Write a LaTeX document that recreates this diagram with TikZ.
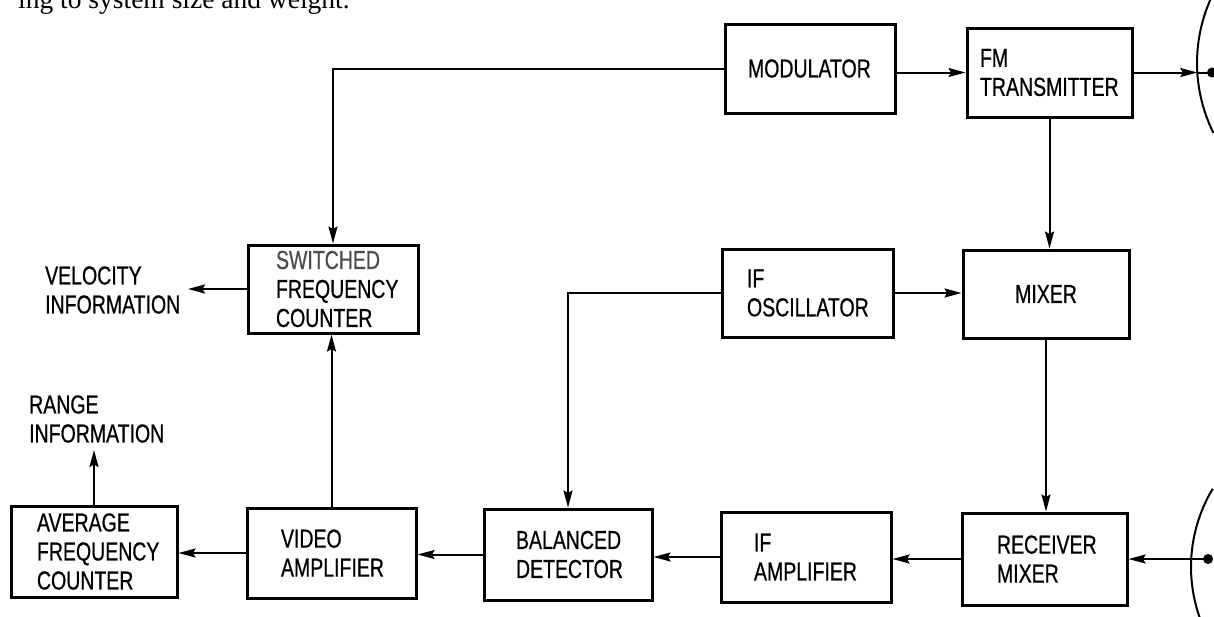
\documentclass[tikz,border=0pt]{standalone}
\usepackage{fontspec}
\setmainfont[FakeStretch=0.75,FakeBold=0.6]{Liberation Sans}
\newfontfamily\capfont{Liberation Serif}
\usetikzlibrary{arrows.meta}
\newcommand\lbl{\fontsize{26}{29}\selectfont}
\begin{document}
\begin{tikzpicture}[x=1pt,y=-1pt,
  box/.style={draw, line width=3pt, inner sep=0pt, align=left, font=\lbl},
  txt/.style={inner sep=0pt, align=left, font=\lbl},
  link/.style={line width=2pt},
  arr/.style={link, -{Stealth[length=17pt,width=9pt,inset=2.5pt]}},
  dish/.style={line width=2pt}]
\useasboundingbox (0,0) rectangle (1214,616);
\fill[white] (0,0) rectangle (1214,616);
\clip (0,0) rectangle (1214,616);

\node[anchor=base west, inner sep=0pt, font=\capfont\fontsize{27.5}{30}\selectfont] (cap) at (18,8) {ing to system size and weight.};

\node[box, minimum width=170pt, minimum height=89pt, text width=124pt] (mod) at (810,68.5) {MODULATOR};
\node[box, minimum width=165pt, minimum height=89pt, text width=139pt] (fm) at (1049.5,72.5) {FM\\TRANSMITTER};
\node[box, minimum width=170pt, minimum height=88pt, text width=114pt] (sw) at (333,289) {\textcolor{black!70}{SWITCHED}\\FREQUENCY\\COUNTER};
\node[box, minimum width=171pt, minimum height=88pt, text width=121pt] (osc) at (807.5,293) {IF\\OSCILLATOR};
\node[box, minimum width=166pt, minimum height=88pt, text width=150pt, align=center] (mix) at (1046,294) {MIXER};
\node[box, minimum width=166pt, minimum height=91pt, text width=114pt] (avg) at (94,551.5) {AVERAGE\\FREQUENCY\\COUNTER};
\node[box, minimum width=169pt, minimum height=90pt, text width=101pt] (vid) at (331.5,553) {VIDEO\\AMPLIFIER};
\node[box, minimum width=168pt, minimum height=91pt, text width=104pt] (bal) at (568,554.5) {BALANCED\\DETECTOR};
\node[box, minimum width=170pt, minimum height=90pt, text width=104pt] (ifa) at (806,557) {IF\\AMPLIFIER};
\node[box, minimum width=165pt, minimum height=92pt, text width=95pt] (rcv) at (1044.5,559) {RECEIVER\\MIXER};

\node[txt, anchor=west] (vel) at (45,290) {VELOCITY\\INFORMATION};
\node[txt, anchor=west] (rng) at (29,419) {RANGE\\INFORMATION};

\coordinate (a1) at (1197.3,72.5);
\coordinate (a1d) at (1212,72.5);
\coordinate (a2d) at (1208,559);
\coordinate (veltip) at (188,289);
\coordinate (rngtip) at (95,450);

\draw[dish] ([shift={(153.5:157)}]1354,63) arc[start angle=153.5, end angle=208, radius=157];
\draw[dish] ([shift={(150:152)}]1343,567) arc[start angle=150, end angle=211, radius=152];
\fill (a1d) circle[radius=5];
\fill (a2d) circle[radius=5];

\draw[arr] (mod.west) -| (sw.north);
\draw[arr] (mod.east |- fm.west) -- (fm.west);
\draw[arr] (fm.east) -- (a1);
\draw[link] (a1) -- (a1d);
\draw[arr] (fm.south) -- (fm.south |- mix.north);
\draw[arr] (osc.east) -- (osc.east -| mix.west);
\draw[arr] (osc.west) -| (bal.north);
\draw[arr] (mix.south) -- (mix.south |- rcv.north);
\draw[arr] (a2d) -- (rcv.east);
\draw[arr] (rcv.west) -- (rcv.west -| ifa.east);
\draw[arr] (ifa.west) -- (ifa.west -| bal.east);
\draw[arr] (bal.west) -- (bal.west -| vid.east);
\draw[arr] (vid.west) -- (vid.west -| avg.east);
\draw[arr] (vid.north) -- (vid.north |- sw.south);
\draw[arr] (sw.west) -- (veltip);
\draw[arr] (avg.north) -- (avg.north |- rngtip);
\end{tikzpicture}
\end{document}
